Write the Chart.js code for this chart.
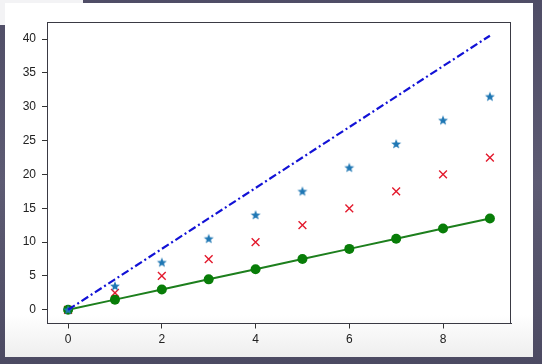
<!DOCTYPE html>
<html>
<head>
<meta charset="utf-8">
<script src="https://cdn.jsdelivr.net/npm/chart.js@4"></script>
<style>
html,body{margin:0;padding:0;}
body{width:542px;height:364px;overflow:hidden;position:relative;
 background:linear-gradient(180deg,#4f4d66 0%,#5d5b73 50%,#4c4a62 100%);}
#tl{position:absolute;left:0;top:0;width:83px;height:25px;background:#f3f3f5;}
#panel{position:absolute;left:5px;top:3px;width:528px;height:354px;
 background:linear-gradient(180deg,#ffffff 0%,#ffffff 88%,#eeeeee 100%);}
canvas{position:absolute;left:0;top:0;}
</style>
</head>
<body>
<div id="tl"></div>
<div id="panel"></div>
<canvas id="c" width="542" height="364"></canvas>
<script>
const xValues = [0, 1, 2, 3, 4, 5, 6, 7, 8, 9];
const greenValues = [0, 1.5, 3, 4.5, 6, 7.5, 9, 10.5, 12, 13.5];
const redValues = [0, 2.5, 5, 7.5, 10, 12.5, 15, 17.5, 20, 22.5];
const starValues = [0, 3.5, 7, 10.5, 14, 17.5, 21, 24.5, 28, 31.5];
const dashValues = [0, 4.5, 9, 13.5, 18, 22.5, 27, 31.5, 36, 40.5];
const xTickValues = [0, 2, 4, 6, 8];
const yTickValues = [0, 5, 10, 15, 20, 25, 30, 35, 40];

function pts(ys){ return xValues.map((x,i)=>({x:x, y:ys[i]})); }

// filled star marker
const starImg = document.createElement('canvas');
starImg.width = 12; starImg.height = 12;
(function(){
  const g = starImg.getContext('2d');
  g.fillStyle = '#1f77b4';
  g.beginPath();
  for(let i=0;i<10;i++){
    const r = i%2===0 ? 5.2 : 2.2;
    const a = -Math.PI/2 + i*Math.PI/5;
    const px = 6 + r*Math.cos(a), py = 6.3 + r*Math.sin(a);
    if(i===0) g.moveTo(px,py); else g.lineTo(px,py);
  }
  g.closePath(); g.fill();
})();

const frame = {
  id:'frame',
  afterDatasetsDraw(chart){
    const a = chart.chartArea, ctx = chart.ctx;
    ctx.save();
    ctx.strokeStyle = '#3a3a44'; ctx.lineWidth = 1;
    ctx.strokeRect(Math.round(a.left)+0.5, Math.round(a.top)+0.5, Math.round(a.right-a.left)-1, Math.round(a.bottom-a.top)-1);
    ctx.restore();
  }
};

const font = {family:'"Liberation Sans", Arial, sans-serif', size:12};

new Chart(document.getElementById('c'), {
  type:'scatter',
  data:{
    datasets:[
      {data:pts(dashValues), showLine:true, borderColor:'#1212d6', borderWidth:2.2,
       borderDash:[8,3,2,3], pointRadius:0, order:0},
      {data:pts(starValues), showLine:false, pointStyle:starImg, pointRadius:5,
       backgroundColor:'#1f77b4', borderColor:'#1f77b4', order:1},
      {data:pts(greenValues), showLine:true, borderColor:'#1d7f1d', borderWidth:2,
       pointStyle:'circle', pointRadius:5, pointBackgroundColor:'#087d08',
       pointBorderColor:'#087d08', pointBorderWidth:0, order:2},
      {data:pts(redValues), showLine:false, pointStyle:'crossRot', pointRadius:5.5,
       borderColor:'#e31b2e', pointBorderColor:'#e31b2e', pointBorderWidth:1.4, order:3}
    ]
  },
  options:{
    responsive:false, animation:false, devicePixelRatio:1,
    layout:{padding:{left:0, top:22, right:31, bottom:0}},
    plugins:{legend:{display:false}, tooltip:{enabled:false}},
    scales:{
      x:{type:'linear', min:-0.45, max:9.45,
        afterBuildTicks(s){ s.ticks = xTickValues.map(v=>({value:v})); },
        afterFit(s){ s.height = 40.5; },
        ticks:{color:'#222', font:font, padding:4, maxRotation:0},
        grid:{display:true, drawOnChartArea:false, drawTicks:true, tickLength:5, color:'#333'},
        border:{display:true, color:'#3a3a44', width:1}
      },
      y:{type:'linear', min:-2.025, max:42.525,
        afterBuildTicks(s){ s.ticks = yTickValues.map(v=>({value:v})); },
        afterFit(s){ s.width = 47; },
        ticks:{color:'#222', font:font, padding:6},
        grid:{display:true, drawOnChartArea:false, drawTicks:true, tickLength:5, color:'#333'},
        border:{display:true, color:'#3a3a44', width:1}
      }
    }
  },
  plugins:[frame]
});
</script>
</body>
</html>
